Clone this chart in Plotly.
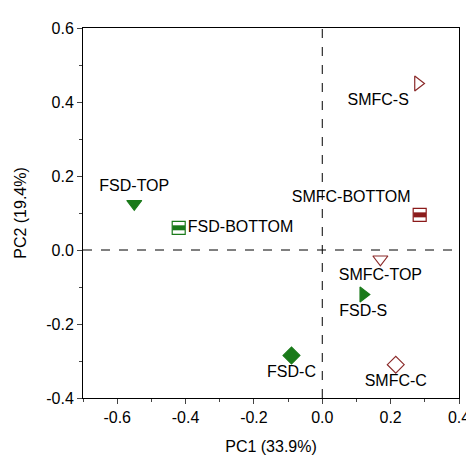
import plotly.graph_objects as go

names = ["FSD-TOP", "FSD-BOTTOM", "FSD-S", "FSD-C", "SMFC-S", "SMFC-BOTTOM", "SMFC-TOP", "SMFC-C"]
pc1 = [-0.55, -0.42, 0.12, -0.09, 0.28, 0.285, 0.17, 0.215]
pc2 = [0.125, 0.06, -0.12, -0.285, 0.45, 0.095, -0.025, -0.31]
symbols = ["triangle-down", "square-open", "triangle-right", "diamond", "triangle-right-open", "square-open", "triangle-down-open", "diamond-open"]
colors = ["#1a7a1a", "#1a7a1a", "#1a7a1a", "#1a7a1a", "#8b2a2a", "#8b1a1a", "#8b2a2a", "#8b2a2a"]
tpos = ["top center", "middle right", "bottom center", "bottom center", "bottom left", "top left", "bottom center", "bottom center"]

F = dict(size=16, family="Arial, Liberation Sans", color="black")
fig = go.Figure()
for i in range(len(names)):
    fig.add_trace(go.Scatter(x=[pc1[i]], y=[pc2[i]], mode="markers+text", text=[names[i]],
        textposition=tpos[i], textfont=F,
        marker=dict(symbol=symbols[i], size=13, color=colors[i], line=dict(width=1.2, color=colors[i])),
        showlegend=False, cliponaxis=False))
    if "BOTTOM" in names[i]:
        fig.add_trace(go.Scatter(x=[pc1[i]], y=[pc2[i]], mode="markers",
            marker=dict(symbol="line-ew", size=9, line=dict(width=5, color=colors[i])),
            showlegend=False, hoverinfo="skip"))

ax = dict(showline=True, linecolor="black", linewidth=1, mirror=True, ticks="outside",
          showgrid=False, zeroline=False, tickfont=F, title_font=F)
fig.update_xaxes(range=[-0.7, 0.4], tickvals=[-0.6, -0.4, -0.2, 0.0, 0.2, 0.4], ticktext=["-0.6", "-0.4", "-0.2", "0.0", "0.2", "0.4"],
                 title_text="PC1 (33.9%)", minor=dict(ticks="outside", dtick=0.1, ticklen=3), **ax)
fig.update_yaxes(range=[-0.4, 0.6], tickvals=[-0.4, -0.2, 0.0, 0.2, 0.4, 0.6], ticktext=["-0.4", "-0.2", "0.0", "0.2", "0.4", "0.6"],
                 title_text="PC2 (19.4%)", minor=dict(ticks="outside", dtick=0.1, ticklen=3), **ax)
fig.add_hline(y=0, line=dict(color="black", width=1, dash="dash"))
fig.add_vline(x=0, line=dict(color="black", width=1, dash="dash"))
fig.update_layout(width=474, height=460, margin=dict(l=70, r=18, t=16, b=70),
                  plot_bgcolor="white", paper_bgcolor="white")
fig.write_html("out.html")
